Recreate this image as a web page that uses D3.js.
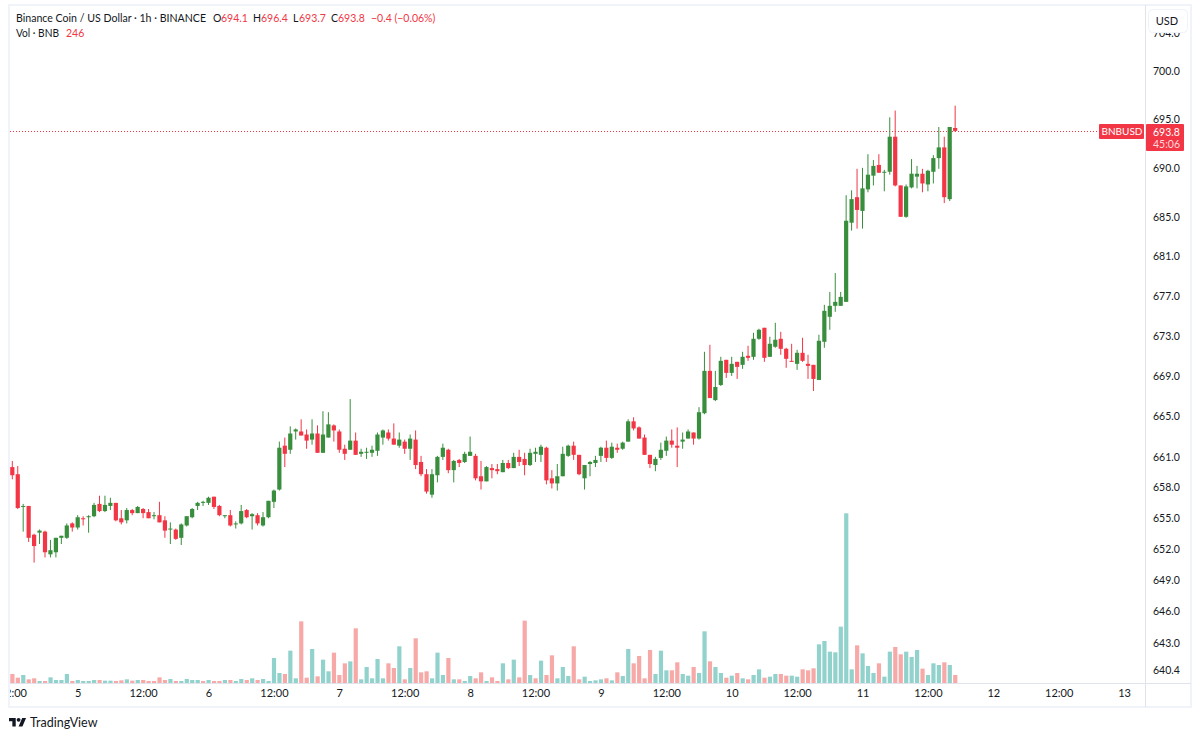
<!DOCTYPE html>
<html>
<head>
<meta charset="utf-8">
<title>BNBUSD</title>
<script src="https://cdn.jsdelivr.net/npm/d3@7"></script>
<style>
	html, body { margin: 0; padding: 0; background: #fff; }
	svg { display: block; }
	text { font-family: Lato, "Open Sans", sans-serif; fill: #131722; }
</style>
</head>
<body>
<div id="chart"></div>
<script>
// hourly candles, first bar is 12:00 on the 4th
var opens = [
	660.0,659.3,656.1,656.2,653.4,653.6,653.7,651.5,651.7,653.1,
	653.1,654.5,654.1,655.0,655.1,655.2,656.4,655.7,656.2,656.5,
	655.0,654.8,655.8,655.5,655.9,655.6,655.2,655.3,654.8,653.9,
	653.9,653.1,654.3,655.1,656.2,656.5,656.5,657.1,656.2,655.2,
	655.3,654.4,654.5,655.8,655.2,655.3,654.3,655.1,656.6,657.8,
	662.1,661.7,663.5,663.5,663.2,662.7,663.3,661.4,662.9,664.1,
	663.5,661.8,661.7,662.6,661.3,661.4,661.4,661.6,662.9,663.4,
	662.8,662.1,662.5,661.8,662.7,660.5,659.3,657.3,659.2,661.0,
	661.7,659.7,660.7,660.5,661.1,661.1,659.1,658.6,659.9,659.8,
	659.5,660.4,659.9,661.0,660.8,660.2,661.3,661.2,661.9,658.9,
	658.4,659.1,661.1,662.1,661.2,658.9,660.3,660.4,661.1,661.9,
	660.9,661.9,661.8,662.5,664.5,663.9,662.9,661.2,660.2,660.9,
	661.6,662.6,662.1,662.5,662.8,663.4,662.8,665.3,669.5,666.6,
	668.1,670.6,669.3,670.4,670.1,671.0,670.9,672.7,673.8,670.9,
	671.9,672.7,671.7,670.5,670.2,671.3,670.2,670.1,668.6,672.4,
	674.9,676.0,676.0,676.4,684.4,687.0,685.6,687.8,689.2,690.3,
	689.5,689.6,693.2,688.2,685.0,688.0,689.1,689.4,688.3,689.6,
	691.0,692.1,686.8,694.1
];
var highs = [
	660.6,660.1,656.4,656.2,653.5,653.9,653.8,652.9,653.1,653.3,
	654.5,654.6,655.3,655.2,655.3,656.5,657.2,657.2,657.0,656.5,
	655.8,656.0,655.9,656.2,656.0,655.9,655.6,656.6,655.2,654.6,
	654.0,654.5,655.2,656.0,656.6,656.7,657.1,657.1,656.3,655.3,
	655.8,654.7,656.3,655.9,655.5,655.5,655.6,656.7,657.8,662.5,
	662.9,664.0,663.8,664.7,663.7,664.7,664.1,665.5,665.4,664.2,
	663.7,662.2,666.7,663.4,661.8,661.9,662.1,663.4,663.7,663.7,
	664.3,663.4,662.7,663.2,663.6,661.1,659.8,659.8,661.1,662.3,
	661.8,660.7,660.8,661.5,663.0,661.3,660.6,660.1,660.3,660.3,
	660.7,660.7,661.4,661.7,661.4,661.8,661.9,662.2,662.0,659.7,
	660.3,662.0,662.2,662.5,661.2,660.2,660.6,661.1,662.0,662.6,
	662.4,662.3,662.5,664.7,664.9,664.0,663.2,661.2,661.0,662.4,
	663.0,663.7,663.9,663.4,663.7,663.4,665.9,671.4,672.1,669.5,
	670.9,670.6,670.9,670.4,671.4,672.0,673.3,673.7,673.8,672.9,
	674.3,673.4,671.8,672.2,671.6,672.8,671.1,670.1,673.1,676.1,
	677.4,679.3,677.4,687.2,687.7,689.9,690.0,691.4,690.8,691.4,
	689.8,695.2,695.9,688.2,688.3,690.9,690.2,689.9,689.8,691.3,
	694.2,693.2,694.2,696.4
];
var lows = [
	658.8,655.9,653.7,652.7,650.7,652.5,651.2,651.2,651.2,652.5,
	653.0,653.7,653.9,654.3,653.6,655.1,655.6,655.6,655.8,654.7,
	654.4,654.5,655.3,655.5,655.0,655.0,654.9,654.6,653.1,652.5,
	652.9,652.4,654.2,655.0,655.8,656.2,656.3,655.9,655.2,655.0,
	654.2,654.0,654.4,655.0,653.9,654.3,654.2,655.0,656.0,657.7,
	660.0,661.3,662.7,663.1,661.8,662.2,661.4,661.4,662.9,662.5,
	661.4,660.7,661.7,661.2,661.0,660.8,661.0,661.1,662.2,662.6,
	662.2,661.9,661.3,660.7,659.8,659.1,657.4,657.0,658.5,660.7,
	659.4,658.5,660.0,660.4,661.1,658.7,657.8,658.6,658.9,659.3,
	659.5,659.8,659.9,660.1,659.2,660.1,660.5,660.5,658.3,657.9,
	657.7,659.1,661.0,660.7,659.2,657.8,659.1,660.0,660.5,660.5,
	660.8,661.4,661.7,662.5,663.6,662.8,661.2,659.9,659.6,660.7,
	661.1,661.9,660.0,661.8,662.8,662.2,662.7,665.2,666.8,666.5,
	668.0,668.8,669.0,668.7,669.7,670.5,670.6,672.6,670.4,670.9,
	671.8,671.1,669.8,670.4,669.6,670.4,668.7,667.5,668.6,671.8,
	673.6,675.4,676.0,676.4,683.6,683.8,683.8,687.5,688.2,689.5,
	687.6,689.3,688.1,685.0,684.9,687.9,687.9,687.5,687.6,688.4,
	689.9,686.4,686.6,693.7
];
var closes = [
	659.2,656.0,656.2,653.1,652.3,653.8,651.7,651.9,653.1,653.3,
	654.3,654.1,655.1,654.9,655.2,656.3,655.7,656.3,656.5,654.8,
	654.6,655.8,655.5,656.1,655.5,655.0,655.3,654.6,653.8,654.0,
	653.0,654.4,655.2,655.9,656.5,656.6,657.0,656.1,655.3,655.3,
	654.3,654.5,655.7,655.1,655.4,654.5,655.1,656.7,657.7,661.9,
	661.3,663.3,663.7,663.1,662.6,663.3,661.4,663.2,664.2,663.6,
	661.7,661.3,662.6,661.2,661.5,661.5,661.7,663.2,663.6,662.8,
	662.2,662.7,661.8,662.8,660.2,659.3,657.6,659.3,661.0,661.9,
	659.7,660.6,660.4,661.3,661.5,658.9,658.6,660.0,659.7,659.6,
	660.4,659.9,661.0,660.5,660.2,661.4,661.5,662.0,658.7,658.4,
	659.1,661.3,662.1,661.2,659.3,660.2,660.5,660.7,661.9,660.9,
	662.0,661.7,662.4,664.5,663.8,662.8,661.2,660.3,660.8,661.7,
	662.6,662.2,661.9,662.7,663.5,662.8,665.4,669.5,666.8,667.9,
	670.5,669.3,670.2,669.9,670.9,670.8,672.7,673.6,670.8,672.2,
	672.6,671.7,670.7,670.4,671.3,670.5,670.0,668.7,672.5,675.5,
	676.0,676.4,676.9,684.6,686.8,685.7,687.9,689.3,690.2,689.5,
	689.6,693.2,688.2,685.0,688.1,689.4,689.4,688.4,689.7,691.0,
	692.1,687.0,694.2,693.8
];
var volumes = [
	277,164,246,113,144,62,62,174,92,92,
	277,62,92,62,62,92,92,72,72,62,
	82,113,72,92,92,62,62,174,92,123,
	62,62,123,92,92,62,92,62,62,92,
	92,62,123,92,144,92,123,62,769,308,
	277,994,144,1896,164,1046,205,718,359,933,
	246,605,666,1681,113,492,144,738,144,605,
	461,1128,113,461,1374,328,359,144,933,246,
	769,113,113,62,215,144,328,62,174,62,
	605,113,718,174,1917,246,144,687,246,851,
	144,492,215,1128,113,195,62,82,113,144,
	82,328,215,1046,605,830,144,1015,277,994,
	390,390,636,277,226,492,308,1589,666,492,
	308,164,226,308,144,113,246,420,164,195,
	277,277,226,226,195,420,390,451,1189,1292,
	964,943,1732,5217,420,1158,912,523,308,605,
	195,964,1107,882,964,800,1015,441,246,605,
	554,636,554,246
];
// d = sold (pink bar), u = bought (teal bar)
var volumeSide = (
	"d d u d d u d u u u " +
	"u d u u u u d u u d " +
	"d u d u d d d d d u " +
	"d u u u u d u d d u " +
	"d u u d u d u u u u " +
	"d u u d d u d u u d " +
	"d d u d u u u u u d " +
	"d u d u d d d u u u " +
	"d u d u u d d u d d " +
	"u d u d d u d u d d " +
	"u u u d d u u u u d " +
	"u d u u d d d d u u " +
	"u d d u u d u u d u " +
	"u d u d u d u u d u " +
	"u d d u u d d d u u " +
	"u u u u u d u u u d " +
	"u u d d u u u d u u " +
	"u d u d").split(" ");

var priceTicks = [704, 700, 695, 690, 685, 681, 677, 673, 669, 665, 661, 658, 655, 652, 649, 646, 643, 640.4];
var timeTickBars = [0, 12, 24, 36, 48, 60, 72, 84, 96, 108, 120, 132, 144, 156, 168, 180, 192, 204];
var timeTickLabels = ["12:00", "5", "12:00", "6", "12:00", "7", "12:00", "8", "12:00", "9", "12:00", "10", "12:00", "11", "12:00", "12", "12:00", "13"];

var lastPrice = 693.8;
var upColor = "#388e3c", downColor = "#f23645";
var upVolume = "#92d2cc", downVolume = "#f7a9a7";
var frameColor = "#f0f3fa", axisLine = "#e0e3eb";

var width = 1200, height = 739;
var paneLeft = 10, paneRight = 1145, paneTop = 6, paneBottom = 683, bottomEdge = 707, rightEdge = 1191;

var svg = d3.select("#chart").append("svg")
	.attr("width", width)
	.attr("height", height);

var x = d3.scaleLinear().domain([0, 204]).range([12.3, 12.3 + 5.45 * 204]);
var y = d3.scaleLog().domain([640.4, 700]).range([670, 71]);
var yVol = d3.scaleLinear().domain([0, 5217]).range([paneBottom, paneBottom - 169.7]);

svg.append("clipPath").attr("id", "pane").append("rect")
	.attr("x", paneLeft).attr("y", paneTop)
	.attr("width", paneRight - paneLeft).attr("height", paneBottom - paneTop);
svg.append("clipPath").attr("id", "timepane").append("rect")
	.attr("x", paneLeft).attr("y", paneBottom)
	.attr("width", paneRight - paneLeft).attr("height", bottomEdge - paneBottom);

// frame
svg.append("rect")
	.attr("x", 9).attr("y", 5)
	.attr("width", rightEdge - 9).attr("height", bottomEdge - 5)
	.attr("fill", "none").attr("stroke", frameColor).attr("stroke-width", 2);
svg.append("line")
	.attr("x1", paneRight + 0.5).attr("x2", paneRight + 0.5)
	.attr("y1", 5).attr("y2", bottomEdge)
	.attr("stroke", axisLine);
svg.append("line")
	.attr("x1", 10).attr("x2", rightEdge)
	.attr("y1", paneBottom + 0.5).attr("y2", paneBottom + 0.5)
	.attr("stroke", axisLine);

var pane = svg.append("g").attr("clip-path", "url(#pane)");

// volume
pane.selectAll("rect.vol").data(volumes).enter().append("rect")
	.attr("class", "vol")
	.attr("x", function(d, i) { return x(i) - 2; })
	.attr("width", 4.2)
	.attr("y", function(d) { return yVol(d); })
	.attr("height", function(d) { return yVol(0) - yVol(d); })
	.attr("fill", function(d, i) { return volumeSide[i] == "u" ? upVolume : downVolume; });

// last price line
pane.append("line")
	.attr("x1", paneLeft).attr("x2", 1099)
	.attr("y1", Math.round(y(lastPrice)) + 0.5).attr("y2", Math.round(y(lastPrice)) + 0.5)
	.attr("stroke", downColor).attr("stroke-dasharray", "1 2");

// candles
var candles = pane.selectAll("g.candle").data(closes).enter().append("g")
	.attr("class", "candle")
	.attr("fill", function(d, i) { return d >= opens[i] ? upColor : downColor; })
	.attr("stroke", function(d, i) { return d >= opens[i] ? upColor : downColor; });
candles.append("line")
	.attr("x1", function(d, i) { return x(i); })
	.attr("x2", function(d, i) { return x(i); })
	.attr("y1", function(d, i) { return y(highs[i]); })
	.attr("y2", function(d, i) { return y(lows[i]); })
	.attr("stroke-width", 1);
candles.append("rect")
	.attr("stroke", "none")
	.attr("x", function(d, i) { return x(i) - 2.1; })
	.attr("width", 4.2)
	.attr("y", function(d, i) { return y(Math.max(d, opens[i])); })
	.attr("height", function(d, i) { return Math.max(1, Math.abs(y(d) - y(opens[i]))); });

// axes
var priceAxis = svg.append("g")
	.attr("transform", "translate(1153,0)")
	.call(d3.axisRight(y).tickValues(priceTicks).tickFormat(d3.format(".1f")).tickSize(0).tickPadding(0));
var timeAxis = svg.append("g")
	.attr("clip-path", "url(#timepane)")
	.append("g")
	.attr("transform", "translate(0," + paneBottom + ")")
	.call(d3.axisBottom(x).tickValues(timeTickBars).tickFormat(function(d, i) { return timeTickLabels[i]; }).tickSize(0).tickPadding(6));
priceAxis.select(".domain").remove();
timeAxis.select(".domain").remove();
priceAxis.selectAll("text").attr("font-size", 10.5).attr("font-family", null);
timeAxis.selectAll("text").attr("font-size", 11).attr("font-family", null);

// USD button sits on top of the clipped 704.0 label
svg.append("rect")
	.attr("x", 1148.5).attr("y", 9.5).attr("width", 39).attr("height", 23).attr("rx", 4)
	.attr("fill", "#fff").attr("stroke", frameColor);
svg.append("text").attr("x", 1167).attr("y", 25).attr("text-anchor", "middle").attr("font-size", 11).text("USD");

// last price tags
var tagY = Math.round(y(lastPrice));
svg.append("rect").attr("x", 1099).attr("y", tagY - 7).attr("width", 45).attr("height", 15).attr("rx", 1).attr("fill", downColor);
svg.append("text").attr("x", 1122).attr("y", tagY + 4).attr("text-anchor", "middle").attr("font-size", 10).style("fill", "#fff").text("BNBUSD");
svg.append("rect").attr("x", 1146).attr("y", tagY - 7).attr("width", 38).attr("height", 27).attr("rx", 1).attr("fill", downColor);
svg.append("text").attr("x", 1153).attr("y", tagY + 5).attr("font-size", 10.5).style("fill", "#fff").text("693.8");
svg.append("text").attr("x", 1153).attr("y", tagY + 17).attr("font-size", 10.5).style("fill", "#ffd6da").text("45:06");

// legend
var legendTop = [
	[213, "O", "#131722"], [221, "694.1", downColor],
	[253, "H", "#131722"], [261, "696.4", downColor],
	[293, "L", "#131722"], [299, "693.7", downColor],
	[331, "C", "#131722"], [338, "693.8", downColor],
	[371, "−0.4 (−0.06%)", downColor]
];
svg.append("text").attr("x", 16).attr("y", 22).attr("font-size", 11)
	.attr("textLength", 190).attr("lengthAdjust", "spacingAndGlyphs")
	.text("Binance Coin / US Dollar · 1h · BINANCE");
svg.selectAll("text.legend").data(legendTop).enter().append("text")
	.attr("class", "legend")
	.attr("x", function(d) { return d[0]; })
	.attr("y", 22)
	.attr("font-size", 10.5)
	.style("fill", function(d) { return d[2]; })
	.text(function(d) { return d[1]; });
svg.append("text").attr("x", 16).attr("y", 37).attr("font-size", 11)
	.attr("textLength", 43).attr("lengthAdjust", "spacingAndGlyphs")
	.text("Vol · BNB");
svg.append("text").attr("x", 66).attr("y", 37).attr("font-size", 10.5).style("fill", downColor).text("246");

// TradingView mark
var logo = svg.append("g").attr("transform", "translate(9,716) scale(0.48)").attr("fill", "#131722");
logo.append("path").attr("d", "M14 22H7V11H0V4h14v18zM28 22h-8l7.5-18h8L28 22z");
logo.append("circle").attr("cx", 20).attr("cy", 8).attr("r", 4);
svg.append("text").attr("x", 30).attr("y", 727).attr("font-size", 12.5).text("TradingView");
</script>
</body>
</html>
